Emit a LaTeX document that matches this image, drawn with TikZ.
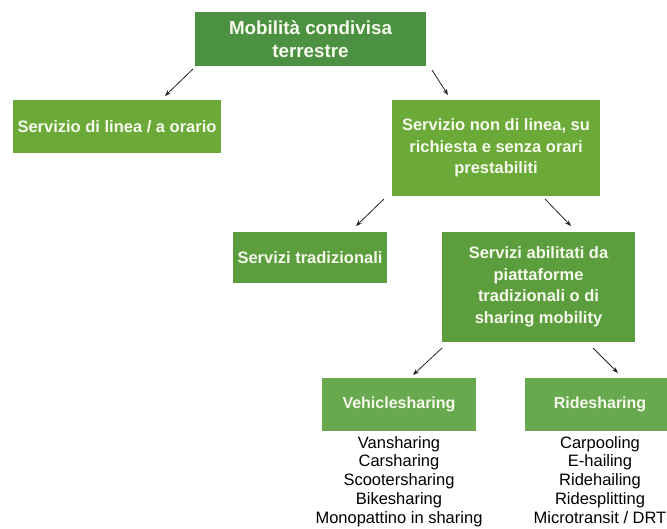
\documentclass[tikz,border=0pt]{standalone}
\usepackage{fontspec}
\setmainfont{Liberation Sans}
\usetikzlibrary{arrows.meta}
\definecolor{gdark}{RGB}{76,145,66}
\definecolor{glight}{RGB}{107,170,57}
\definecolor{gmid}{RGB}{92,158,62}
\definecolor{gsoft}{RGB}{104,168,78}
\definecolor{txt}{RGB}{246,250,236}
\tikzset{
  box/.style={rectangle, inner sep=0pt, align=center, text=txt,
    font=\bfseries\fontsize{16.5}{21.5}\selectfont},
  listtxt/.style={align=center, inner sep=0pt, text=black, anchor=north,
    font=\fontsize{16.5}{18.8}\selectfont},
  arr/.style={-{Stealth[length=6pt,width=4.5pt]}, line width=0.8pt, black!85}
}
\begin{document}
\begin{tikzpicture}[x=1pt,y=-1pt]
\useasboundingbox[fill=white] (0,0) rectangle (667,528);
\node[box, fill=gdark, minimum width=231pt, minimum height=54pt,
  font=\bfseries\fontsize{18.8}{22.5}\selectfont] (top) at (310.5,39) {Mobilità condivisa\\terrestre};
\node[box, fill=glight, minimum width=208pt, minimum height=53pt] (lin) at (117,126.5) {Servizio di linea / a orario};
\node[box, fill=glight, minimum width=208pt, minimum height=96pt] (nonlin) at (496,148) {Servizio non di linea, su\\richiesta e senza orari\\prestabiliti};
\node[box, fill=gmid, minimum width=154pt, minimum height=51pt] (trad) at (310,257.5) {Servizi tradizionali};
\node[box, fill=gmid, minimum width=193pt, minimum height=110pt] (abil) at (538.5,287) {Servizi abilitati da\\piattaforme\\tradizionali o di\\sharing mobility};
\node[box, fill=gsoft, minimum width=154pt, minimum height=53pt, font=\bfseries\fontsize{16}{20}\selectfont] (veh) at (399,404) {Vehiclesharing};
\node[box, fill=gsoft, minimum width=150pt, minimum height=53pt, font=\bfseries\fontsize{16}{20}\selectfont] (ride) at (600,404) {Ridesharing};
\node[listtxt] (vlist) at (399,436) {Vansharing\\Carsharing\\Scootersharing\\Bikesharing\\Monopattino in sharing};
\node[listtxt] (rlist) at (600,436) {Carpooling\\E-hailing\\Ridehailing\\Ridesplitting\\Microtransit / DRT};
\coordinate (a1s) at (193,69);  \coordinate (a1e) at (165,96);
\coordinate (a2s) at (432,70);  \coordinate (a2e) at (448,95);
\coordinate (a3s) at (384,199); \coordinate (a3e) at (356,226);
\coordinate (a4s) at (545,199); \coordinate (a4e) at (571,226);
\coordinate (a5s) at (442,348); \coordinate (a5e) at (413,375);
\coordinate (a6s) at (593,348); \coordinate (a6e) at (618,373);
\draw[arr] (a1s) -- (a1e);
\draw[arr] (a2s) -- (a2e);
\draw[arr] (a3s) -- (a3e);
\draw[arr] (a4s) -- (a4e);
\draw[arr] (a5s) -- (a5e);
\draw[arr] (a6s) -- (a6e);
\end{tikzpicture}
\end{document}
